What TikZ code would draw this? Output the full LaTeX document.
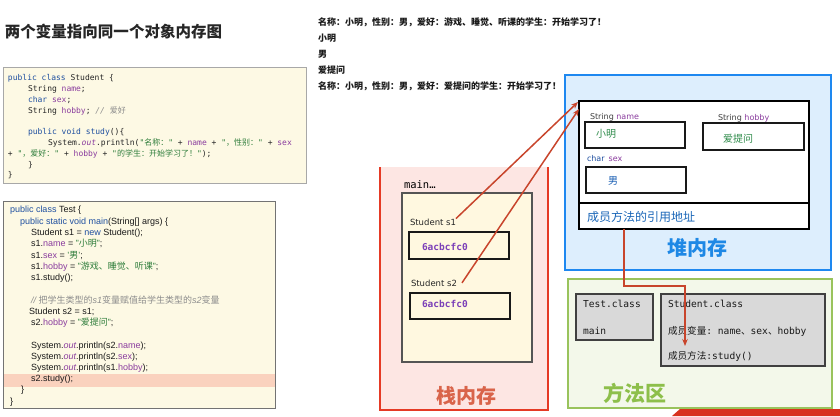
\documentclass[tikz,border=0pt]{standalone}
\usepackage{fontspec}
\setmainfont{Liberation Sans}
\setmonofont{DejaVu Sans Mono}
\newfontfamily\cjk{Noto Sans CJK SC}
\newfontfamily\dvs{DejaVu Sans}
\usetikzlibrary{arrows.meta}
\newcommand\zh[1]{{\cjk #1}}
\definecolor{kwc}{HTML}{1F4FA0}
\definecolor{fdc}{HTML}{8A3C9E}
\definecolor{stc}{HTML}{2E7D3A}
\definecolor{cmc}{HTML}{8C8C8C}
\definecolor{codebg}{HTML}{FDF9E4}
\definecolor{codebd}{HTML}{A8A8A8}
\definecolor{hlc}{HTML}{FAD2BE}
\definecolor{stackfill}{HTML}{FDE6E3}
\definecolor{stackred}{HTML}{E53A25}
\definecolor{framefill}{HTML}{FFF8E0}
\definecolor{framebd}{HTML}{555555}
\definecolor{heapfill}{HTML}{DDEEFD}
\definecolor{heapbd}{HTML}{1E88F0}
\definecolor{mfill}{HTML}{F3F8EA}
\definecolor{mbd}{HTML}{99C35C}
\definecolor{grayc}{HTML}{D9D9D9}
\definecolor{arrc}{HTML}{C8452C}
\definecolor{stklbl}{HTML}{D9644A}
\definecolor{heaplbl}{HTML}{1E88E5}
\definecolor{mlbl}{HTML}{8DBF4B}
\definecolor{addrc}{HTML}{7B3FB8}
\definecolor{valgreen}{HTML}{2E8B4A}
\definecolor{valblue}{HTML}{1A5FB4}
\definecolor{mrefc}{HTML}{1A66B8}
\definecolor{wmred}{HTML}{D8321E}
\newcommand\ckw[1]{\textcolor{kwc}{#1}}
\newcommand\cfd[1]{\textcolor{fdc}{#1}}
\newcommand\cst[1]{\textcolor{stc}{#1}}
\newcommand\ccm[1]{\textcolor{cmc}{\itshape #1}}
\newcommand\cou[1]{\textcolor{fdc}{\itshape #1}}
\begin{document}
\begin{tikzpicture}[x=1pt,y=-1pt,
  rbox/.style={anchor=north west, inner sep=0, outer sep=0},
  tx/.style={anchor=base west, inner sep=0, outer sep=0},
  mcode/.style={tx, font=\ttfamily\fontsize{8}{10}\selectfont, text=black!85},
  scode/.style={tx, font=\fontsize{9}{11}\selectfont, text=black!90},
  outl/.style={tx, font={\cjk\bfseries\fontsize{9}{11}\selectfont}, text=black!90},
  cellbox/.style={rbox, fill=framefill, draw=black!90, line width=1.4},
  slot/.style={rbox, fill=white, draw=black!90, line width=1.4},
  graybox/.style={rbox, fill=grayc, draw=black!75, line width=1.2},
  hlab/.style={tx, font=\dvs\fontsize{8}{10}\selectfont, text=black!75},
  mtext/.style={tx, font=\ttfamily\fontsize{9.6}{12}\selectfont, text=black!90},
  refarr/.style={draw=arrc, line width=1.5, -{Stealth[length=7pt,width=5.5pt]}},
]
\useasboundingbox (0,0) rectangle (840,416);

% ---------- title ----------
\node[tx, font={\cjk\bfseries\fontsize{15.5}{18}\selectfont}, text=black!85] (title) at (5,37) {两个变量指向同一个对象内存图};

% ---------- Student code ----------
\node[rbox, fill=codebg, draw=codebd, line width=0.8, minimum width=303, minimum height=116] (stucode) at (3,67) {};
\node[mcode] (c1) at (8,80) {\ckw{public class} Student \{};
\node[mcode] (c2) at (28,91) {String \cfd{name};};
\node[mcode] (c3) at (28,102) {\ckw{char} \cfd{sex};};
\node[mcode] (c4) at (28,113) {String \cfd{hobby}; \ccm{// \zh{爱好}}};
\node[mcode] (c5) at (28,134) {\ckw{public void study}()\{};
\node[mcode] (c6) at (48,145) {System.\cou{out}.println(\cst{"\zh{名称：}"} + \cfd{name} + \cst{"\zh{，性别：}"} + \cfd{sex}};
\node[mcode] (c7) at (8,156) {+ \cst{"\zh{，爱好：}"} + \cfd{hobby} + \cst{"\zh{的学生：开始学习了！}"});};
\node[mcode] (c8) at (28,167) {\}};
\node[mcode] (c9) at (8,177) {\}};

% ---------- Test code ----------
\node[rbox, fill=codebg, draw=black!55, line width=0.8, minimum width=272, minimum height=207] (testcode) at (3,201) {};
\node[rbox, fill=hlc, minimum width=271, minimum height=13] (hlrow) at (3.5,374) {};
\node[scode] (t1) at (10,212) {\ckw{public class} Test \{};
\node[scode] (t2) at (20,224) {\ckw{public static void main}(String[] args) \{};
\node[scode] (t3) at (31,235) {Student s1 = \ckw{new} Student();};
\node[scode] (t4) at (31,246) {s1.\cfd{name} = \cst{"\zh{小明}"};};
\node[scode] (t5) at (31,258) {s1.\cfd{sex} = \cst{'\zh{男}'};};
\node[scode] (t6) at (31,269) {s1.\cfd{hobby} = \cst{"\zh{游戏、睡觉、听课}"};};
\node[scode] (t7) at (31,280) {s1.study();};
\node[scode] (t8) at (31,303) {\ccm{// \zh{把学生类型的}s1\zh{变量赋值给学生类型的}s2\zh{变量}}};
\node[scode] (t9) at (29,314) {Student s2 = s1;};
\node[scode] (t10) at (31,325) {s2.\cfd{hobby} = \cst{"\zh{爱提问}"};};
\node[scode] (t11) at (31,348) {System.\cou{out}.println(s2.\cfd{name});};
\node[scode] (t12) at (31,359) {System.\cou{out}.println(s2.\cfd{sex});};
\node[scode] (t13) at (31,370) {System.\cou{out}.println(s1.\cfd{hobby});};
\node[scode] (t14) at (31,381) {s2.study();};
\node[scode] (t15) at (21,392) {\}};
\node[scode] (t16) at (10,404) {\}};

% ---------- console output ----------
\node[outl] (o1) at (318,25) {名称：小明，性别：男，爱好：游戏、睡觉、听课的学生：开始学习了！};
\node[outl] (o2) at (318,41) {小明};
\node[outl] (o3) at (318,57) {男};
\node[outl] (o4) at (318,73) {爱提问};
\node[outl] (o5) at (318,89.5) {名称：小明，性别：男，爱好：爱提问的学生：开始学习了！};

% ---------- stack ----------
\node[rbox, fill=stackfill, minimum width=168, minimum height=243] (stack) at (380,167) {};
\draw[stackred, line width=2.2] (stack.north west) -- (stack.south west) -- (stack.south east) -- (stack.north east);
\node[tx, font=\ttfamily\fontsize{10.5}{12}\selectfont] (mainlab) at (404,188) {main…};
\node[rbox, fill=framefill, draw=framebd, line width=1.2, minimum width=130, minimum height=169] (frame) at (402,193) {};
\node[tx, font=\dvs\fontsize{8.5}{10}\selectfont, text=black!85] (s1lab) at (410,225) {Student s1};
\node[cellbox, minimum width=100, minimum height=27] (b1) at (409,232) {};
\node[tx, font=\ttfamily\bfseries\fontsize{9.5}{11}\selectfont, text=addrc] (addr1) at (422,250.5) {6acbcfc0};
\node[tx, font=\dvs\fontsize{8.5}{10}\selectfont, text=black!85] (s2lab) at (411,286) {Student s2};
\node[cellbox, minimum width=100, minimum height=26] (b2) at (410,293) {};
\node[tx, font=\ttfamily\bfseries\fontsize{9.5}{11}\selectfont, text=addrc] (addr2) at (422,307.5) {6acbcfc0};
\node[font={\cjk\bfseries\fontsize{20}{22}\selectfont}, text=stklbl, inner sep=0] (stacklbl) at (466,396) {栈内存};

% ---------- heap ----------
\node[rbox, fill=heapfill, draw=heapbd, line width=2.5, minimum width=266, minimum height=195] (heap) at (565,75) {};
\node[rbox, fill=white, draw=black, line width=1.6, minimum width=230, minimum height=128] (obj) at (579,101) {};
\draw[black, line width=1.6] (obj.west |- 0,203) -- (obj.east |- 0,203);
\node[hlab] (namelab) at (590,119) {String \textcolor{fdc}{name}};
\node[slot, minimum width=100, minimum height=26] (namebox) at (585,122) {};
\node[tx, font={\cjk\fontsize{10}{12}\selectfont}, text=valgreen] (nameval) at (596,137) {小明};
\node[hlab] (hobbylab) at (718,120) {String \textcolor{fdc}{hobby}};
\node[slot, minimum width=101, minimum height=27] (hobbybox) at (703,123) {};
\node[tx, font={\cjk\fontsize{10}{12}\selectfont}, text=valgreen] (hobbyval) at (723,142) {爱提问};
\node[hlab] (sexlab) at (587,161) {\textcolor{kwc}{char}\hspace{4pt}\textcolor{fdc}{sex}};
\node[slot, minimum width=100, minimum height=26] (sexbox) at (586,167) {};
\node[tx, font={\cjk\fontsize{10}{12}\selectfont}, text=valblue] (sexval) at (608,184) {男};
\node[tx, font={\cjk\fontsize{12}{14}\selectfont}, text=mrefc] (mref) at (587,221.5) {成员方法的引用地址};
\node[font={\cjk\bfseries\fontsize{20}{22}\selectfont}, text=heaplbl, inner sep=0] (heaplabel) at (697,248) {堆内存};

% ---------- method area ----------
\node[rbox, fill=mfill, draw=mbd, line width=2.5, minimum width=264, minimum height=129] (marea) at (568,279) {};
\node[graybox, minimum width=77, minimum height=46] (testcls) at (576,294) {};
\node[graybox, minimum width=164, minimum height=72] (stucls) at (661,294) {};
\node[mtext] (tcname) at (583,307.5) {Test.class};
\node[mtext] (tcmain) at (583,334.5) {main};
\node[mtext] (scname) at (668,307.5) {Student.class};
\node[mtext] (scvars) at (668,334.5) {\zh{成员变量}: name\zh{、}sex\zh{、}hobby};
\node[mtext] (scstudy) at (668,359.5) {\zh{成员方法}:study()};
\node[font={\cjk\bfseries\fontsize{21}{23}\selectfont}, text=mlbl, inner sep=0] (mlabel) at (635,393) {方法区};

% ---------- connectors ----------
\draw[refarr] (s1lab.north east) -- ([shift={(-1,1)}]obj.north west);
\draw[refarr] ([xshift=5pt]s2lab.east) -- ([shift={(0,8)}]obj.north west);
\coordinate (bend) at (685,286);
\coordinate (tipS) at (685,346);
\draw[refarr] ([xshift=45pt]obj.south west) |- (bend) -- (tipS);

% ---------- watermark band ----------
\fill[wmred] (672,416) -- (680,409) -- (840,409) -- (840,416) -- cycle;
\end{tikzpicture}
\end{document}
